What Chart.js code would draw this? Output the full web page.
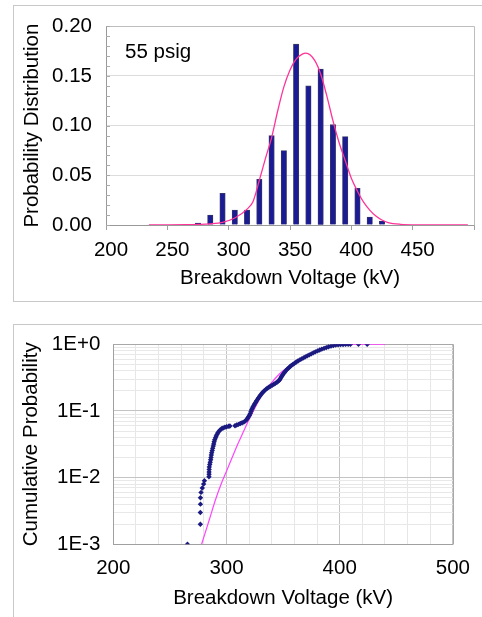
<!DOCTYPE html>
<html>
<head>
<meta charset="utf-8">
<script src="https://cdn.jsdelivr.net/npm/chart.js@4.4.0/dist/chart.umd.min.js"></script>
<style>
  body { margin: 0; width: 482px; height: 617px; overflow: hidden; background: #fff; position: relative; }
  .frame { position: absolute; border: 1px solid #c8c8c8; }
  #f1 { left: 13px; top: 5px; width: 520px; height: 295px; }
  #f2 { left: 13px; top: 324px; width: 520px; height: 320px; }
  .box { position: absolute; left: 0; width: 482px; }
  #topBox { top: 0; height: 310px; }
  #botBox { top: 310px; height: 307px; }
</style>
</head>
<body>
<div class="frame" id="f1"></div>
<div class="frame" id="f2"></div>
<div class="box" id="topBox"><canvas id="histChart"></canvas></div>
<div class="box" id="botBox"><canvas id="cdfChart"></canvas></div>
<script>
// Histogram (55 psig), bin centres in kV
const binCenters = [275, 285, 295, 305, 315, 325, 335, 345, 355, 365, 375, 385, 395, 405, 415, 425];
const binProb = [0.002, 0.010, 0.032, 0.015, 0.015, 0.046, 0.090, 0.075, 0.182, 0.140, 0.157, 0.101, 0.089, 0.037, 0.008, 0.004];

// Fitted density curve
const fitKV = [235, 250, 265, 275, 285, 295, 305, 315, 320, 325, 330, 335, 340, 345, 350, 355, 360, 363, 370, 375, 380, 385, 390, 395, 400, 405, 410, 415, 420, 425, 430, 440, 455, 475, 495];
const fitProb = [0, 0.0001, 0.0003, 0.0006, 0.0012, 0.0027, 0.007, 0.016, 0.024, 0.045, 0.067, 0.088, 0.115, 0.139, 0.156, 0.167, 0.172, 0.173, 0.166, 0.152, 0.130, 0.105, 0.083, 0.065, 0.047, 0.034, 0.023, 0.015, 0.009, 0.005, 0.0025, 0.0007, 0.0001, 0, 0];

// Cumulative probability of measured breakdowns
const cdfKV = [265.5, 276.9, 276.9, 277.0, 277.0, 277.5, 278.6, 279.8, 280.5,
  284.5, 284.6, 284.6, 284.7, 284.8, 285.2, 285.6, 286.0, 286.3, 286.6, 286.9, 287.4, 287.8, 288.3, 288.7,
  289.1, 289.6, 290.3, 290.9, 291.6, 292.4, 293.3, 294.4, 295.6, 297.0, 298.6, 300.2, 302.0, 303.0,
  307.5, 309.0, 310.6, 312.2, 313.8, 315.3, 316.7, 317.8, 318.8, 319.6, 320.3, 321.0, 321.6, 322.2,
  322.8, 323.5, 324.2, 325.0, 325.8, 326.6, 327.5, 328.4, 329.3, 330.3, 331.3, 332.4, 333.6, 334.8,
  336.0, 337.4, 338.8, 340.3, 341.8, 343.2, 344.6, 345.8, 346.8, 347.5, 348.2, 348.9, 349.7, 350.6,
  351.5, 352.5, 353.6, 354.8, 356.0, 357.3, 358.7, 360.1, 361.6, 363.1, 364.7, 366.3, 368.0, 369.7,
  371.4, 373.1, 374.9, 376.7, 378.5, 380.4, 382.3, 384.2, 386.2, 388.2, 390.2, 392.3, 394.4, 396.5,
  398.6, 400.8, 403.0, 405.2, 407.5, 409.5, 416.6, 424.3];
const cdfProb = [0.001, 0.002, 0.003, 0.004, 0.005, 0.006, 0.007, 0.008, 0.009,
  0.0103, 0.0112, 0.0122, 0.0133, 0.0145, 0.0157, 0.0170, 0.0185, 0.0200, 0.0218, 0.0236, 0.0255, 0.0275, 0.0297, 0.0320,
  0.0345, 0.0370, 0.0395, 0.0420, 0.0445, 0.0470, 0.0495, 0.0520, 0.0540, 0.0555, 0.0570, 0.0580, 0.0590, 0.0595,
  0.0600, 0.0615, 0.0630, 0.0650, 0.0665, 0.0680, 0.0710, 0.0745, 0.0785, 0.0825, 0.0865, 0.0920, 0.0980, 0.1040,
  0.1100, 0.1160, 0.1220, 0.1285, 0.1350, 0.1420, 0.1500, 0.1580, 0.1665, 0.1750, 0.1840, 0.1930, 0.2020, 0.2110,
  0.2190, 0.2270, 0.2350, 0.2430, 0.2510, 0.2600, 0.2700, 0.2800, 0.2920, 0.3050, 0.3200, 0.3350, 0.3500, 0.3680,
  0.3850, 0.4030, 0.4220, 0.4420, 0.4600, 0.4800, 0.5000, 0.5200, 0.5420, 0.5620, 0.5830, 0.6040, 0.6250, 0.6480,
  0.6710, 0.6940, 0.7180, 0.7440, 0.7700, 0.7960, 0.8210, 0.8460, 0.8700, 0.8930, 0.9180, 0.9380, 0.9580, 0.9720,
  0.9820, 0.9890, 0.9935, 0.9960, 0.9980, 0.9990, 0.9995, 0.9998];

// Fitted cumulative curve
const cdfFitKV = [278, 285, 290, 295, 300, 305, 310, 315, 320, 325, 330, 335, 340, 345, 350, 355, 360, 365, 370, 375, 380, 385, 390, 395, 400, 410, 420, 440];
const cdfFitProb = [0.001, 0.0024, 0.0045, 0.0078, 0.0125, 0.020, 0.032, 0.049, 0.075, 0.110, 0.160, 0.210, 0.268, 0.335, 0.400, 0.465, 0.530, 0.590, 0.650, 0.720, 0.790, 0.855, 0.920, 0.965, 0.988, 0.999, 1.0, 1.0];

// Tick labels
const histYTicks = ['0.00', '0.05', '0.10', '0.15', '0.20'];
const histXTicks = ['200', '250', '300', '350', '400', '450'];
const cdfDecades = [0.001, 0.01, 0.1, 1];
const cdfDecadeLabels = ['1E-3', '1E-2', '1E-1', '1E+0'];
const cdfXTicks = ['200', '300', '400', '500'];

const FONT = '"Liberation Sans", Arial, Helvetica, sans-serif';
Chart.defaults.font.family = FONT;
Chart.defaults.font.size = 20.5;
Chart.defaults.color = '#000';

// Draws top/right frame of plot area (under the data), inside minor ticks and the note text
const plotExtras = {
  id: 'plotExtras',
  beforeDatasetsDraw(chart, args, opts) {
    const ctx = chart.ctx;
    const a = chart.chartArea;
    ctx.save();
    ctx.strokeStyle = opts.frameColor;
    ctx.lineWidth = 1;
    ctx.beginPath();
    ctx.moveTo(Math.round(a.left) + 0.5, Math.round(a.top) + 0.5);
    ctx.lineTo(Math.round(a.right) + 0.5, Math.round(a.top) + 0.5);
    ctx.lineTo(Math.round(a.right) + 0.5, Math.round(a.bottom) + 0.5);
    ctx.stroke();

    if (opts.minorStep) {
      const ys = chart.scales.y;
      ctx.strokeStyle = '#aaa';
      ctx.beginPath();
      for (let v = ys.min; v <= ys.max + 1e-9; v += opts.minorStep) {
        const py = Math.round(ys.getPixelForValue(v)) + 0.5;
        ctx.moveTo(a.left, py);
        ctx.lineTo(a.left + 4, py);
      }
      ctx.stroke();
    }
    ctx.restore();
  },
  afterDraw(chart, args, opts) {
    if (!opts.note) return;
    const ctx = chart.ctx;
    const a = chart.chartArea;
    ctx.save();
    ctx.fillStyle = '#000';
    ctx.font = '20.5px ' + FONT;
    ctx.textBaseline = 'middle';
    ctx.fillText(opts.note, a.left + 19, a.top + 26);
    ctx.restore();
  }
};

// Top: histogram + fitted distribution
new Chart(document.getElementById('histChart'), {
  type: 'bar',
  data: {
    datasets: [
      {
        type: 'line',
        data: fitKV.map((x, i) => ({ x: x, y: fitProb[i] })),
        borderColor: '#ff3399',
        borderWidth: 1.3,
        pointRadius: 0,
        cubicInterpolationMode: 'monotone',
        order: 0
      },
      {
        type: 'bar',
        data: binCenters.map((x, i) => ({ x: x, y: binProb[i] })),
        backgroundColor: '#1b1b93',
        borderColor: '#3c3c66',
        borderWidth: 0.8,
        barThickness: 5.4,
        order: 1
      }
    ]
  },
  options: {
    responsive: true,
    maintainAspectRatio: false,
    animation: false,
    layout: { padding: { top: 25, right: 7, left: 0, bottom: 0 } },
    plugins: {
      legend: { display: false },
      tooltip: { enabled: false },
      plotExtras: { frameColor: '#bdbdbd', minorStep: 0.01, note: '55 psig' }
    },
    scales: {
      x: {
        type: 'linear',
        min: 200,
        max: 500,
        offset: false,
        afterFit: (s) => { s.height = 85; },
        ticks: {
          stepSize: 50,
          padding: 8,
          labelOffset: 5,
          maxRotation: 0,
          callback: (v) => histXTicks.includes(String(v)) ? String(v) : ''
        },
        grid: { drawOnChartArea: false, drawTicks: true, tickLength: 5, tickColor: '#a0a0a0', offset: false },
        border: { color: '#999' },
        title: { display: true, text: 'Breakdown Voltage (kV)', padding: { top: 0, bottom: 19.7 } }
      },
      y: {
        min: 0,
        max: 0.2,
        afterFit: (s) => { s.width = 106; },
        ticks: {
          stepSize: 0.05,
          padding: 14,
          callback: (v) => histYTicks[Math.round(v / 0.05)]
        },
        grid: { color: '#dcdcdc', drawTicks: false },
        border: { color: '#999' },
        title: { display: true, text: 'Probability Distribution', padding: { top: 19.7, bottom: 0 } }
      }
    }
  },
  plugins: [plotExtras]
});

// Bottom: cumulative probability on log scale
new Chart(document.getElementById('cdfChart'), {
  type: 'scatter',
  data: {
    datasets: [
      {
        data: cdfKV.map((x, i) => ({ x: x, y: cdfProb[i] })),
        pointStyle: 'rectRot',
        pointRadius: 2.7,
        backgroundColor: '#1a1a80',
        borderColor: '#1a1a80',
        borderWidth: 0,
        order: 0
      },
      {
        type: 'line',
        data: cdfFitKV.map((x, i) => ({ x: x, y: cdfFitProb[i] })),
        borderColor: '#ff44ff',
        borderWidth: 1.2,
        pointRadius: 0,
        cubicInterpolationMode: 'monotone',
        order: 1
      }
    ]
  },
  options: {
    responsive: true,
    maintainAspectRatio: false,
    animation: false,
    layout: { padding: { top: 34.3, right: 17.7, left: 0, bottom: 0 } },
    plugins: {
      legend: { display: false },
      tooltip: { enabled: false },
      plotExtras: { frameColor: '#a8a8a8' }
    },
    scales: {
      x: {
        type: 'linear',
        min: 200,
        max: 500,
        afterFit: (s) => { s.height = 72.7; },
        ticks: {
          stepSize: 20,
          padding: 12,
          maxRotation: 0,
          autoSkip: false,
          callback: (v) => cdfXTicks.includes(String(v)) ? String(v) : ''
        },
        grid: {
          drawTicks: false,
          color: (c) => (c.tick && c.tick.value % 100 === 0) ? '#c4c4c4' : '#e6e6e6'
        },
        border: { color: '#a0a0a0' },
        title: { display: true, text: 'Breakdown Voltage (kV)', padding: { top: 0, bottom: 6.4 } }
      },
      y: {
        type: 'logarithmic',
        min: 0.001,
        max: 1,
        afterFit: (s) => { s.width = 113.3; },
        afterBuildTicks: (s) => {
          const t = [];
          cdfDecades.forEach((d, i) => {
            const last = i === cdfDecades.length - 1;
            for (let k = 1; k <= (last ? 1 : 9); k++) t.push({ value: +(d * k).toPrecision(3) });
          });
          s.ticks = t;
        },
        ticks: {
          padding: 13,
          autoSkip: false,
          callback: (v) => {
            const i = cdfDecades.findIndex((d) => Math.abs(d - v) < d * 1e-6);
            return i >= 0 ? cdfDecadeLabels[i] : '';
          }
        },
        grid: {
          drawTicks: false,
          color: (c) => {
            const v = c.tick ? c.tick.value : 0;
            return cdfDecades.some((d) => Math.abs(d - v) < d * 1e-6) ? '#c4c4c4' : '#e8e8e8';
          }
        },
        border: { color: '#a0a0a0' },
        title: { display: true, text: 'Cumulative Probability', padding: { top: 19.4, bottom: 0 } }
      }
    }
  },
  plugins: [plotExtras]
});
</script>
</body>
</html>
